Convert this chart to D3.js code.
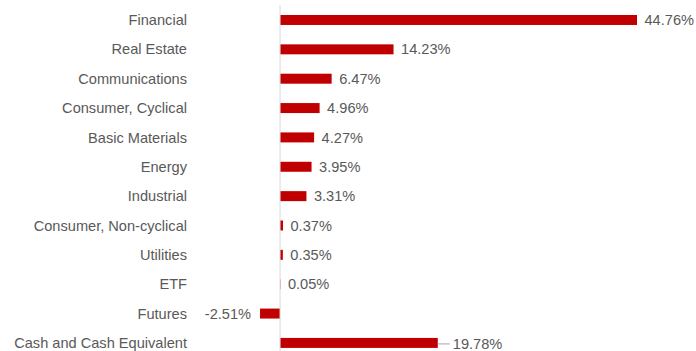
<!DOCTYPE html>
<html>
<head>
<meta charset="utf-8">
<script src="https://cdn.jsdelivr.net/npm/d3@7"></script>
<style>
	body { margin: 0; background: #fff; }
	text { font-family: "Liberation Sans", Arial, sans-serif; }
</style>
</head>
<body>
<div id="chart"></div>
<script>
// sector weights, top to bottom
const sectors = ["Financial", "Real Estate", "Communications", "Consumer, Cyclical",
	"Basic Materials", "Energy", "Industrial", "Consumer, Non-cyclical",
	"Utilities", "ETF", "Futures", "Cash and Cash Equivalent"];
const weights = [44.76, 14.23, 6.47, 4.96, 4.27, 3.95, 3.31, 0.37, 0.35, 0.05, -2.51, 19.78];

const w = 696, h = 351;
const red = "#C00000", grey = "#595959";
const fs = 14.6;

const svg = d3.select("#chart").append("svg")
	.attr("width", w)
	.attr("height", h);

// zero sits at x=280, ~7.97px per percent
const x = d3.scaleLinear()
	.domain([-10, 50])
	.range([200.3, 678.8]);

const y = d3.scaleBand()
	.domain(sectors)
	.range([5.3, 357.6])
	.paddingInner(0.66)
	.paddingOuter(0.33);

const data = sectors.map((s, i) => ({ name: s, value: weights[i] }));

// category labels
svg.append("g")
	.selectAll("text")
	.data(data)
	.enter()
	.append("text")
	.attr("x", 187)
	.attr("y", (d) => y(d.name) + y.bandwidth() / 2)
	.attr("dy", "0.35em")
	.attr("text-anchor", "end")
	.attr("font-size", fs)
	.attr("fill", grey)
	.text((d) => d.name);

// bars
svg.append("g")
	.selectAll("rect")
	.data(data)
	.enter()
	.append("rect")
	.attr("x", (d) => x(Math.min(0, d.value)))
	.attr("y", (d) => y(d.name))
	.attr("width", (d) => Math.abs(x(d.value) - x(0)))
	.attr("height", y.bandwidth())
	.attr("fill", red);

// zero axis line
svg.append("line")
	.attr("x1", x(0)).attr("x2", x(0))
	.attr("y1", 5).attr("y2", h)
	.attr("stroke", "#d9d9d9")
	.attr("stroke-width", 1);

// value labels
const last = sectors[sectors.length - 1];
svg.append("g")
	.selectAll("text")
	.data(data)
	.enter()
	.append("text")
	.attr("x", (d) => {
		if (d.value < 0) return x(d.value) - 9;
		if (d.name === last) return x(d.value) + 15;
		return x(d.value) + 7.5;
	})
	.attr("y", (d) => y(d.name) + y.bandwidth() / 2 + (d.name === last ? 1 : 0))
	.attr("dy", "0.35em")
	.attr("text-anchor", (d) => d.value < 0 ? "end" : "start")
	.attr("font-size", fs)
	.attr("fill", grey)
	.text((d) => d.value.toFixed(2) + "%");

// leader line for the cash label
const cash = data[data.length - 1];
svg.append("line")
	.attr("x1", x(cash.value))
	.attr("x2", x(cash.value) + 12)
	.attr("y1", y(cash.name) + y.bandwidth() / 2 + 1)
	.attr("y2", y(cash.name) + y.bandwidth() / 2 + 1)
	.attr("stroke", "#a6a6a6")
	.attr("stroke-width", 1);
</script>
</body>
</html>
